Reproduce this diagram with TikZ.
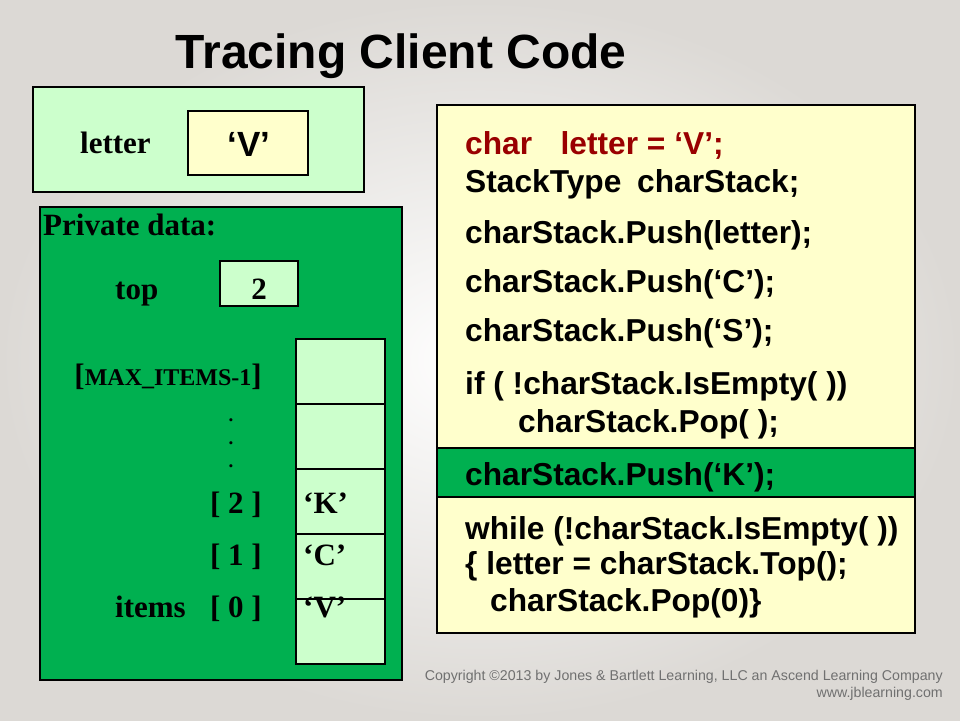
\documentclass[tikz,border=0pt]{standalone}
\usepackage{fontspec}
\setmainfont{Liberation Serif}
\setsansfont{Liberation Sans}
\definecolor{bggray}{HTML}{DCD9D5}
\definecolor{darkgreen}{HTML}{00B050}
\definecolor{palegreen}{HTML}{CCFFCC}
\definecolor{paleyellow}{HTML}{FFFFCC}
\definecolor{codered}{HTML}{990000}
\definecolor{copygray}{HTML}{707070}

\begin{document}
\begin{tikzpicture}[x=1pt,y=-1pt,
  box/.style={draw=black, line width=1.1pt},
  serif/.style={font=\fontsize{31}{36}\selectfont\bfseries, inner sep=0pt},
  dot/.style={font=\fontsize{19}{20}\selectfont\bfseries, inner sep=0pt},
  code/.style={font=\sffamily\fontsize{31.7}{38}\selectfont\bfseries, anchor=base west, inner sep=0pt},
  title/.style={font=\sffamily\fontsize{48}{56}\selectfont\bfseries, inner sep=0pt},
  copy/.style={font=\sffamily\fontsize{14.2}{17}\selectfont, text=copygray, anchor=base east, inner sep=0pt}]

\useasboundingbox (0,0) rectangle (960,720);
\shade [inner color=white, outer color=bggray] (0,0) rectangle (960,720);

\node [title] (T) at (401,56) {Tracing Client Code};

% letter variable
\path (33,87) coordinate(LA) (364,192) coordinate(LB);
\path (188,111) coordinate(VA) (308,175) coordinate(VB);
\draw [box, fill=palegreen] (LA) rectangle (LB);
\draw [box, fill=paleyellow] (VA) rectangle (VB);
\node [serif, anchor=base west] (letter) at (80,153) {letter};
\node [code, anchor=base, font=\sffamily\fontsize{35}{40}\selectfont\bfseries] (V) at (249,156) {‘V’};

% charStack
\path (40,207) coordinate(PA) (402,680) coordinate(PB);
\draw [box, fill=darkgreen] (PA) rectangle (PB);
\node [serif, anchor=base west] (P) at (43,235) {Private data:};

\node [serif, anchor=base west] (top) at (115,299) {top};
\path (220,261) coordinate(TA) (298,306) coordinate(TB);
\draw [box, fill=palegreen] (TA) rectangle (TB);
\node [serif, anchor=base] (two) at (259,299) {2};

\foreach \y in {339,404,469,534,599}
  \draw [box, fill=palegreen] (296,\y) rectangle +(89,65);

\node [serif, anchor=base east] (max) at (262,385) {[{\fontsize{24}{28}\selectfont MAX\_ITEMS-1}]};
\node [dot, anchor=base] (d1) at (231,421) {.};
\node [dot, anchor=base] (d2) at (231,444) {.};
\node [dot, anchor=base] (d3) at (231,467) {.};
\node [serif, anchor=base east] (i2) at (262,513) {[ 2 ]};
\node [serif, anchor=base east] (i1) at (262,565) {[ 1 ]};
\node [serif, anchor=base east] (i0) at (262,617) {[ 0 ]};
\node [serif, anchor=base west] (items) at (115,617) {items};
\node [serif, anchor=base west] (K) at (303,513) {‘K’};
\node [serif, anchor=base west] (C) at (303,565) {‘C’};
\node [serif, anchor=base west] (VV) at (303,617) {‘V’};

% client code
\path (437,105) coordinate(CA) (915,633) coordinate(CB);
\draw [box, fill=paleyellow] (CA) rectangle (CB);
\draw [box, fill=darkgreen] (437,448) rectangle (915,497);

\node [code, text=codered] (l1) at (465,154) {char\hspace{0.9em}letter = ‘V’;};
\node [code] (l2) at (465,192) {StackType\hspace{0.5em}charStack;};
\node [code] (l3) at (465,243) {charStack.Push(letter);};
\node [code] (l4) at (465,292) {charStack.Push(‘C’);};
\node [code] (l5) at (465,341) {charStack.Push(‘S’);};
\node [code] (l6) at (465,394) {if ( !charStack.IsEmpty( ))};
\node [code] (l7) at (518,432) {charStack.Pop( );};
\node [code] (l8) at (465,485) {charStack.Push(‘K’);};
\node [code] (l9) at (465,539) {while (!charStack.IsEmpty( ))};
\node [code] (l10) at (465,574) {\{ letter = charStack.Top();};
\node [code] (l11) at (490,611) {charStack.Pop(0)\}};

\node [copy] (cr1) at (943,680) {Copyright ©2013 by Jones \& Bartlett Learning, LLC an Ascend Learning Company};
\node [copy] (cr2) at (943,697) {www.jblearning.com};

\end{tikzpicture}
\end{document}
